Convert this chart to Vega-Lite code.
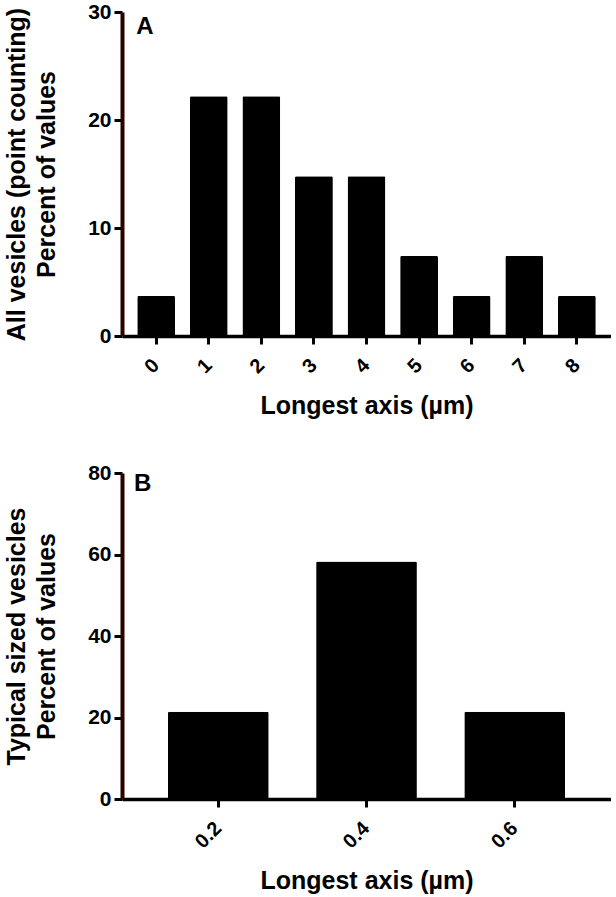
{
  "$schema": "https://vega.github.io/schema/vega-lite/v6.json",
  "padding": {"left": 4, "top": 1, "right": 0, "bottom": 0},
  "background": "white",
  "spacing": 43,
  "config": {
    "font": "Liberation Sans",
    "view": {"stroke": null},
    "axis": {
      "grid": false,
      "domain": true,
      "labelFont": "Liberation Sans",
      "labelFontWeight": "bold",
      "labelFontSize": 21,
      "labelColor": "black",
      "titleFont": "Liberation Sans",
      "titleFontWeight": "bold",
      "titleFontSize": 25,
      "titleColor": "black",
      "domainColor": "black",
      "domainWidth": 3.5,
      "tickColor": "black",
      "tickWidth": 3,
      "tickSize": 8
    },
    "axisX": {"labelFontSize": 20, "labelAngle": -45, "labelAlign": "right", "labelBaseline": "middle", "labelPadding": 18}
  },
  "vconcat": [
    {
      "width": 489,
      "height": 324,
      "layer": [
        {
          "data": {"values": [
            {"axis": "0", "percent": 3.7},
            {"axis": "1", "percent": 22.2},
            {"axis": "2", "percent": 22.2},
            {"axis": "3", "percent": 14.8},
            {"axis": "4", "percent": 14.8},
            {"axis": "5", "percent": 7.4},
            {"axis": "6", "percent": 3.7},
            {"axis": "7", "percent": 7.4},
            {"axis": "8", "percent": 3.7}
          ]},
          "mark": {"type": "bar", "color": "black", "cornerRadius": 1.5},
          "encoding": {
            "x": {
              "field": "axis", "type": "ordinal",
              "sort": null,
              "scale": {"paddingInner": 0.28, "paddingOuter": 0.29},
              "axis": {"title": "Longest axis (µm)", "titlePadding": 17}
            },
            "y": {
              "field": "percent", "type": "quantitative",
              "scale": {"domain": [0, 30]},
              "axis": {"domain": true, "domainColor": "#2a0000", "domainWidth": 4, "values": [0, 10, 20, 30], "title": ["All vesicles (point counting)", "Percent of values"], "titleLineHeight": 30, "labelPadding": 3, "titlePadding": 28}
            }
          }
        },
        {
          "data": {"values": [{"panel": "A", "axis": "0", "percent": 28}]},
          "mark": {"type": "text", "fontSize": 24, "fontWeight": "bold", "font": "Liberation Sans", "align": "left", "baseline": "alphabetic", "dx": -1, "color": "black"},
          "encoding": {
            "x": {"field": "axis", "type": "ordinal", "bandPosition": 0},
            "y": {"field": "percent", "type": "quantitative"},
            "text": {"field": "panel"}
          }
        }
      ]
    },
    {
      "width": 489,
      "height": 326,
      "layer": [
        {
          "data": {"values": [
            {"axis": "0.2", "percent": 21.4},
            {"axis": "0.4", "percent": 58.3},
            {"axis": "0.6", "percent": 21.4}
          ]},
          "mark": {"type": "bar", "color": "black", "cornerRadius": 1.5},
          "encoding": {
            "x": {
              "field": "axis", "type": "ordinal",
              "sort": null,
              "scale": {"paddingInner": 0.32, "paddingOuter": 0.31},
              "axis": {"title": "Longest axis (µm)", "titlePadding": 17}
            },
            "y": {
              "field": "percent", "type": "quantitative",
              "scale": {"domain": [0, 80]},
              "axis": {"domain": true, "domainColor": "#2a0000", "domainWidth": 4, "values": [0, 20, 40, 60, 80], "title": ["Typical sized vesicles", "Percent of values"], "titleLineHeight": 30, "labelPadding": 3, "titlePadding": 28}
            }
          }
        },
        {
          "data": {"values": [{"panel": "B", "axis": "0.2", "percent": 75.5}]},
          "mark": {"type": "text", "fontSize": 24, "fontWeight": "bold", "font": "Liberation Sans", "align": "left", "baseline": "alphabetic", "dx": -34, "color": "black"},
          "encoding": {
            "x": {"field": "axis", "type": "ordinal", "bandPosition": 0},
            "y": {"field": "percent", "type": "quantitative"},
            "text": {"field": "panel"}
          }
        }
      ]
    }
  ]
}
